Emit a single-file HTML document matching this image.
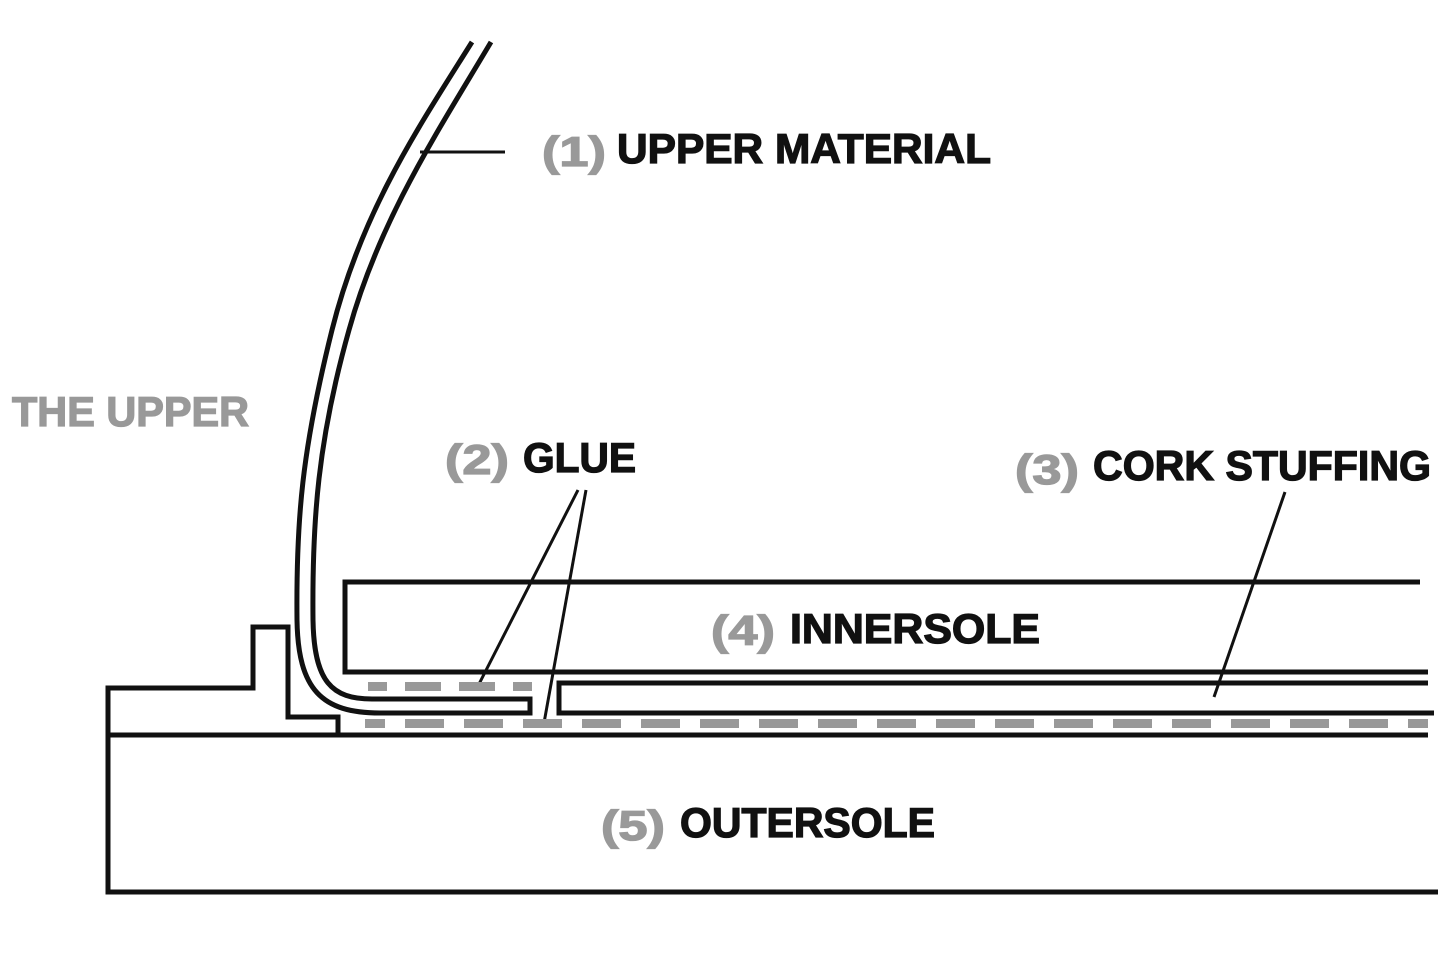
<!DOCTYPE html>
<html><head><meta charset="utf-8"><style>
html,body{margin:0;padding:0;background:#fff;}
svg{display:block}
text{font-family:"Liberation Sans",sans-serif;font-weight:bold;stroke-width:1.3;}
</style></head><body>
<svg width="1440" height="953" viewBox="0 0 1440 953" xmlns="http://www.w3.org/2000/svg">
<g fill="none" stroke="#111" stroke-width="5">
<path d="M472,42 C420,125 362,210 332,330 C302,450 296,520 297,620 C298,690 322,713 380,713 L530,713 L530,699 L372,699 C332,699 314,682 313,620 C312,520 318,440 349,330 C380,218 440,128 491,42"/>
<path d="M1420,582 L345,582 L345,672 L1428,672"/>
<path d="M1428,683 L559,683 L559,713 L1434,713"/>
<path d="M1428,735 L108,735"/>
<path d="M108,735 L108,892 L1438,892"/>
<path d="M338,735 L338,717 L288,717 L288,627 L253,627 L253,688 L108,688 L108,735"/>
</g>
<g stroke="#111" stroke-width="3">
<line x1="420" y1="152" x2="505" y2="152"/>
<line x1="578" y1="490" x2="478" y2="686"/>
<line x1="586" y1="490" x2="544" y2="723"/>
<line x1="1285" y1="492" x2="1214" y2="697"/>
</g>
<g fill="#999">
<rect x="368" y="682" width="19" height="9"/>
<rect x="405" y="682" width="36" height="9"/>
<rect x="459" y="682" width="36" height="9"/>
<rect x="513" y="682" width="19" height="9"/>
<rect x="365" y="719" width="20" height="9"/>
<rect x="405" y="719" width="39" height="9"/>
<rect x="464" y="719" width="39" height="9"/><rect x="523" y="719" width="39" height="9"/>
<rect x="582" y="719" width="39" height="9"/><rect x="641" y="719" width="39" height="9"/>
<rect x="700" y="719" width="39" height="9"/><rect x="759" y="719" width="39" height="9"/>
<rect x="818" y="719" width="39" height="9"/><rect x="877" y="719" width="39" height="9"/>
<rect x="936" y="719" width="39" height="9"/><rect x="995" y="719" width="39" height="9"/>
<rect x="1054" y="719" width="39" height="9"/><rect x="1113" y="719" width="39" height="9"/>
<rect x="1172" y="719" width="39" height="9"/><rect x="1231" y="719" width="39" height="9"/>
<rect x="1290" y="719" width="39" height="9"/><rect x="1349" y="719" width="39" height="9"/>
<rect x="1408" y="719" width="20" height="9"/>
</g>
<g font-size="42">
<text x="542" y="166" fill="#999" stroke="#999" textLength="64" lengthAdjust="spacingAndGlyphs">(1)</text>
<text x="617" y="163" fill="#111" stroke="#111" textLength="374" lengthAdjust="spacingAndGlyphs">UPPER MATERIAL</text>
<text x="12" y="426" fill="#999" stroke="#999" textLength="237" lengthAdjust="spacingAndGlyphs">THE UPPER</text>
<text x="445" y="474" fill="#999" stroke="#999" textLength="64" lengthAdjust="spacingAndGlyphs">(2)</text>
<text x="523" y="472" fill="#111" stroke="#111" textLength="113" lengthAdjust="spacingAndGlyphs">GLUE</text>
<text x="1015" y="484" fill="#999" stroke="#999" textLength="64" lengthAdjust="spacingAndGlyphs">(3)</text>
<text x="1093" y="480" fill="#111" stroke="#111" textLength="338" lengthAdjust="spacingAndGlyphs">CORK STUFFING</text>
<text x="711" y="645" fill="#999" stroke="#999" textLength="64" lengthAdjust="spacingAndGlyphs">(4)</text>
<text x="790" y="643" fill="#111" stroke="#111" textLength="250" lengthAdjust="spacingAndGlyphs">INNERSOLE</text>
<text x="601" y="840" fill="#999" stroke="#999" textLength="64" lengthAdjust="spacingAndGlyphs">(5)</text>
<text x="680" y="837" fill="#111" stroke="#111" textLength="255" lengthAdjust="spacingAndGlyphs">OUTERSOLE</text>
</g>
</svg>
</body></html>
